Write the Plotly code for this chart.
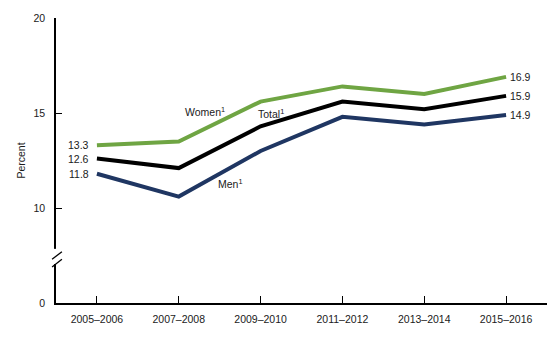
import plotly.graph_objects as go

periods = ["2005–2006", "2007–2008", "2009–2010", "2011–2012", "2013–2014", "2015–2016"]
women = [13.3, 13.5, 15.6, 16.4, 16.0, 16.9]
total = [12.6, 12.1, 14.3, 15.6, 15.2, 15.9]
men = [11.8, 10.6, 13.0, 14.8, 14.4, 14.9]

y_tickvals = [5, 10, 15, 20]
y_ticktext = ["0", "10", "15", "20"]

GREEN = "#6fa543"
BLACK = "#000000"
NAVY = "#1f3662"
FONT = "Liberation Sans, Arial, sans-serif"
TXT = "#1a1a1a"

x_idx = list(range(len(periods)))

fig = go.Figure()
for name, vals, col in [("Men", men, NAVY), ("Total", total, BLACK), ("Women", women, GREEN)]:
    fig.add_trace(go.Scatter(x=x_idx, y=vals, mode="lines", name=name,
                             line=dict(color=col, width=4), hoverinfo="skip"))

ann = []
for vals in (women, total, men):
    ann.append(dict(x=0, y=vals[0], text=f"{vals[0]:.1f}", xanchor="right", yanchor="middle",
                    xshift=-6, showarrow=False, font=dict(size=10.5, color=TXT, family=FONT)))
    ann.append(dict(x=5, y=vals[-1], text=f"{vals[-1]:.1f}", xanchor="left", yanchor="middle",
                    xshift=2, showarrow=False, font=dict(size=10.5, color=TXT, family=FONT)))

for txt, xx, yy in [("Women<sup>1</sup>", 1.32, 15.09), ("Total<sup>1</sup>", 2.13, 14.98), ("Men<sup>1</sup>", 1.63, 11.29)]:
    ann.append(dict(x=xx, y=yy, text=txt, showarrow=False, xanchor="center", yanchor="middle",
                    font=dict(size=10.5, color=TXT, family=FONT)))

shapes = [
    # gap in the axis line
    dict(type="line", xref="paper", yref="y", x0=0, x1=0, y0=7.05, y1=7.85,
         line=dict(color="white", width=4)),
    # break marks
    dict(type="line", xref="paper", yref="y", x0=-0.008, x1=0.012, y0=7.3, y1=7.7,
         line=dict(color="black", width=1.3)),
    dict(type="line", xref="paper", yref="y", x0=-0.008, x1=0.012, y0=6.9, y1=7.3,
         line=dict(color="black", width=1.3)),
]

fig.update_layout(
    width=560, height=337,
    margin=dict(l=56, r=13, t=16, b=34),
    paper_bgcolor="white", plot_bgcolor="white",
    showlegend=False,
    font=dict(family=FONT, size=10.5, color=TXT),
    annotations=ann,
    shapes=shapes,
    xaxis=dict(range=[-0.5, 5.5], tickvals=x_idx, ticktext=periods,
               showgrid=False, zeroline=False, showline=True, linecolor="black", linewidth=1.5,
               ticks="inside", ticklen=7, tickcolor="black", tickwidth=1.3,
               ticklabelstandoff=6, tickfont=dict(size=10.5, color=TXT)),
    yaxis=dict(range=[5, 20], tickvals=y_tickvals, ticktext=y_ticktext,
               showgrid=False, zeroline=False, showline=True, linecolor="black", linewidth=1.5,
               ticks="inside", ticklen=6, tickcolor="black", tickwidth=1.3,
               ticklabelstandoff=7, tickfont=dict(size=10.5, color=TXT),
               title=dict(text="Percent", standoff=6, font=dict(size=10.5, color=TXT))),
)

fig.write_html("out.html")
